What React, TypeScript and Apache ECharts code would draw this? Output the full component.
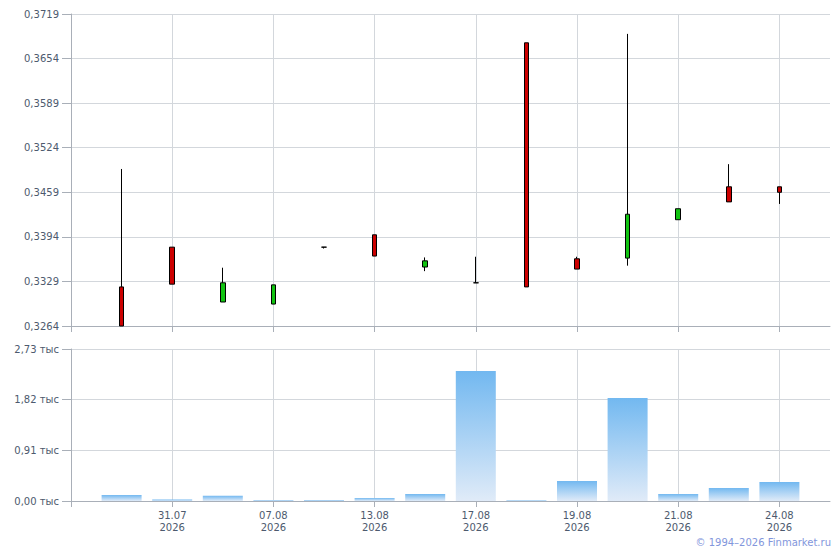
import { useEffect, useRef } from 'react';
import * as echarts from 'echarts';

// trading days (first and last slots are empty padding)
const dates = ['', '29.07', '31.07', '04.08', '07.08', '11.08', '13.08', '14.08', '17.08', '18.08', '19.08', '20.08', '21.08', '22.08', '24.08', ''];
const year = '2026';

const opens = [0.3321, 0.3379, 0.3299, 0.3296, 0.3379, 0.3397, 0.3350, 0.3327, 0.3677, 0.3362, 0.3363, 0.3419, 0.3467, 0.3467];
const closes = [0.3264, 0.3325, 0.3327, 0.3324, 0.3379, 0.3366, 0.3359, 0.3327, 0.3321, 0.3347, 0.3427, 0.3435, 0.3445, 0.3459];
const lows = [0.3264, 0.3325, 0.3299, 0.3296, 0.3377, 0.3366, 0.3344, 0.3327, 0.3321, 0.3347, 0.3352, 0.3419, 0.3445, 0.3442];
const highs = [0.3493, 0.3379, 0.3349, 0.3324, 0.3379, 0.3397, 0.3364, 0.3365, 0.3677, 0.3365, 0.3690, 0.3435, 0.3500, 0.3467];

const volumes = [108, 25, 95, 20, 18, 55, 125, 2335, 15, 360, 1850, 125, 235, 340];

// price axis ticks: 0,3264 ... 0,3719 step 0,0065
const priceMin = 0.3264;
const priceStep = 0.0065;
const priceTicks = 7;
const volumeStep = 910;
const volumeTicks = 3;

const gridColor = '#d3d7dc';
const axisColor = '#a9afb8';
const labelColor = '#4d5a6e';

const everyOther = (i: number) => i % 2 === 0;

export default function App() {
    const chartRef = useRef<HTMLDivElement>(null);

    useEffect(() => {
        if (!chartRef.current) return;
        const chart = echarts.init(chartRef.current, undefined, { renderer: 'svg' });

        // values are drawn relative to priceMin so the ticks can start at it
        const candles: any[] = ['-'];
        opens.forEach((o, i) => {
            candles.push([o - priceMin, closes[i] - priceMin, lows[i] - priceMin, highs[i] - priceMin]);
        });
        candles.push('-');
        const vols: any[] = ['-', ...volumes, '-'];

        const xCommon = {
            type: 'category' as const,
            data: dates,
            boundaryGap: false,
            axisLine: { lineStyle: { color: axisColor } },
            axisTick: { interval: everyOther, length: 6, lineStyle: { color: axisColor } },
            splitLine: { show: true, interval: everyOther, lineStyle: { color: gridColor } },
        };

        const option: echarts.EChartsOption = {
            animation: false,
            textStyle: { fontFamily: 'DejaVu Sans' },
            grid: [
                { left: 71, top: 14, right: 10, height: 312 },
                { left: 71, top: 349, right: 10, height: 152 },
            ],
            xAxis: [
                { ...xCommon, gridIndex: 0, axisLabel: { show: false } },
                {
                    ...xCommon,
                    gridIndex: 1,
                    axisLabel: {
                        interval: everyOther,
                        margin: 8,
                        color: labelColor,
                        fontSize: 10,
                        lineHeight: 12,
                        formatter: (v: string) => (v ? v + '\n' + year : ''),
                    },
                },
            ],
            yAxis: [
                {
                    type: 'value',
                    gridIndex: 0,
                    min: 0,
                    max: priceStep * priceTicks,
                    interval: priceStep,
                    axisLine: { show: true, lineStyle: { color: axisColor } },
                    axisTick: { show: true, length: 9, lineStyle: { color: axisColor } },
                    splitLine: { lineStyle: { color: gridColor } },
                    axisLabel: {
                        color: labelColor,
                        fontSize: 10,
                        margin: 12,
                        formatter: (v: number) => (v + priceMin).toFixed(4).replace('.', ','),
                    },
                },
                {
                    type: 'value',
                    gridIndex: 1,
                    min: 0,
                    max: volumeStep * volumeTicks,
                    interval: volumeStep,
                    axisLine: { show: true, lineStyle: { color: axisColor } },
                    axisTick: { show: true, length: 9, lineStyle: { color: axisColor } },
                    splitLine: { lineStyle: { color: gridColor } },
                    axisLabel: {
                        color: labelColor,
                        fontSize: 10,
                        margin: 12,
                        formatter: (v: number) => (v / 1000).toFixed(2).replace('.', ',') + ' тыс',
                    },
                },
            ],
            series: [
                {
                    type: 'candlestick',
                    xAxisIndex: 0,
                    yAxisIndex: 0,
                    data: candles,
                    barWidth: 5,
                    itemStyle: {
                        color: '#11c411',
                        color0: '#cc0000',
                        borderColor: '#000000',
                        borderColor0: '#000000',
                        borderColorDoji: '#000000',
                        borderWidth: 1,
                    },
                },
                {
                    type: 'bar',
                    xAxisIndex: 1,
                    yAxisIndex: 1,
                    data: vols,
                    barWidth: 40,
                    itemStyle: {
                        color: new echarts.graphic.LinearGradient(0, 0, 0, 1, [
                            { offset: 0, color: '#72b8f0' },
                            { offset: 1, color: '#e0ebf8' },
                        ]),
                    },
                },
            ],
            graphic: [
                {
                    type: 'text',
                    right: 9,
                    top: 537,
                    style: {
                        text: '© 1994–2026 Finmarket.ru',
                        fill: '#8296dc',
                        fontSize: 10,
                        fontFamily: 'DejaVu Sans',
                    },
                },
            ],
        };

        chart.setOption(option, { notMerge: true });

        return () => {
            chart.dispose();
        };
    }, []);

    return (
        <div
            ref={chartRef}
            style={{ position: 'fixed', left: 0, top: 0, width: '840px', height: '550px', background: '#fff' }}
        />
    );
}
